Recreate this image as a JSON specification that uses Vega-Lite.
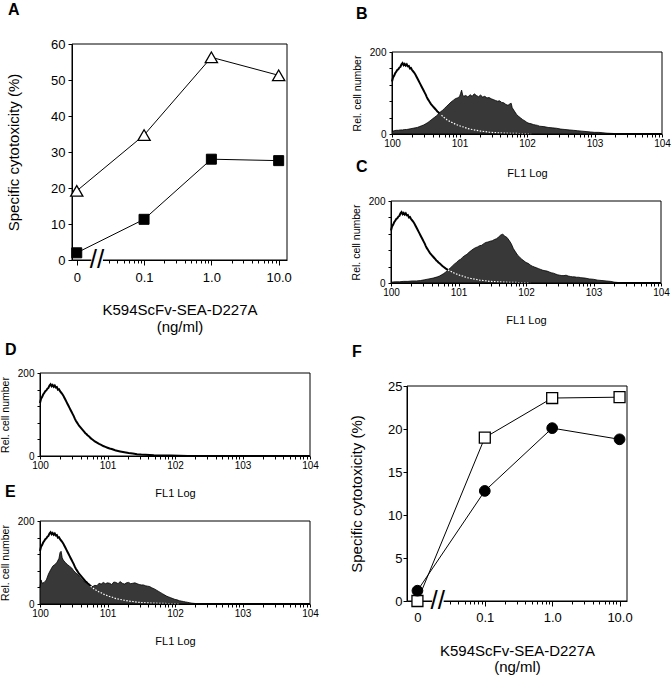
{
  "$schema": "https://vega.github.io/schema/vega-lite/v6.json",
  "width": 672,
  "height": 681,
  "autosize": {"type": "none"},
  "padding": 0,
  "background": "white",
  "config": {
    "font": "Liberation Sans",
    "view": {"stroke": null},
    "axis": {"grid": false, "domainColor": "black", "tickColor": "black", "labelColor": "black", "titleColor": "black", "titleFontWeight": "normal", "labelFont": "Liberation Sans", "titleFont": "Liberation Sans", "domainWidth": 1, "tickWidth": 1, "labelFlush": false, "labelOverlap": false, "labelBound": false}
  },
  "datasets": {
    "panelA": [
      {"dose": 0.01, "cytotoxicity": 19.2, "series": "triangle"},
      {"dose": 0.1, "cytotoxicity": 34.7, "series": "triangle"},
      {"dose": 1, "cytotoxicity": 56.3, "series": "triangle"},
      {"dose": 10, "cytotoxicity": 51.3, "series": "triangle"},
      {"dose": 0.01, "cytotoxicity": 2, "series": "square"},
      {"dose": 0.1, "cytotoxicity": 11.3, "series": "square"},
      {"dose": 1, "cytotoxicity": 28, "series": "square"},
      {"dose": 10, "cytotoxicity": 27.6, "series": "square"}
    ],
    "panelF": [
      {"dose": 0.01, "cytotoxicity": 0, "series": "square"},
      {"dose": 0.1, "cytotoxicity": 19, "series": "square"},
      {"dose": 1, "cytotoxicity": 23.6, "series": "square"},
      {"dose": 10, "cytotoxicity": 23.7, "series": "square"},
      {"dose": 0.01, "cytotoxicity": 1.2, "series": "circle"},
      {"dose": 0.1, "cytotoxicity": 12.8, "series": "circle"},
      {"dose": 1, "cytotoxicity": 20.1, "series": "circle"},
      {"dose": 10, "cytotoxicity": 18.8, "series": "circle"}
    ],
    "control": [
      {"channel": 0, "count": 128}, {"channel": 4, "count": 138}, {"channel": 8, "count": 142}, {"channel": 12, "count": 148}, {"channel": 16, "count": 152}, {"channel": 20, "count": 156}, {"channel": 24, "count": 158}, {"channel": 28, "count": 162}, {"channel": 32, "count": 164}, {"channel": 36, "count": 170}, {"channel": 40, "count": 173}, {"channel": 44, "count": 168}, {"channel": 48, "count": 171}, {"channel": 52, "count": 167}, {"channel": 56, "count": 170}, {"channel": 60, "count": 165}, {"channel": 64, "count": 166}, {"channel": 68, "count": 160}, {"channel": 72, "count": 161}, {"channel": 76, "count": 156}, {"channel": 80, "count": 153}, {"channel": 84, "count": 150}, {"channel": 88, "count": 146}, {"channel": 92, "count": 141}, {"channel": 96, "count": 136}, {"channel": 100, "count": 131}, {"channel": 104, "count": 126}, {"channel": 108, "count": 121}, {"channel": 112, "count": 116}, {"channel": 116, "count": 111}, {"channel": 120, "count": 106}, {"channel": 124, "count": 101}, {"channel": 128, "count": 96}, {"channel": 132, "count": 90}, {"channel": 136, "count": 85}, {"channel": 140, "count": 81}, {"channel": 144, "count": 77}, {"channel": 148, "count": 73}, {"channel": 152, "count": 70}, {"channel": 156, "count": 67}, {"channel": 160, "count": 64}, {"channel": 164, "count": 61}, {"channel": 168, "count": 58}, {"channel": 172, "count": 55}, {"channel": 176, "count": 53}, {"channel": 180, "count": 50}, {"channel": 184, "count": 48}, {"channel": 188, "count": 46}, {"channel": 192, "count": 43}, {"channel": 196, "count": 41}, {"channel": 200, "count": 39}, {"channel": 208, "count": 35}, {"channel": 216, "count": 32}, {"channel": 224, "count": 29}, {"channel": 232, "count": 27}, {"channel": 240, "count": 24}, {"channel": 248, "count": 22}, {"channel": 256, "count": 20}, {"channel": 264, "count": 18}, {"channel": 272, "count": 17}, {"channel": 280, "count": 15}, {"channel": 288, "count": 13}, {"channel": 296, "count": 12}, {"channel": 304, "count": 11}, {"channel": 320, "count": 9}, {"channel": 336, "count": 7}, {"channel": 352, "count": 6}, {"channel": 368, "count": 4.5}, {"channel": 384, "count": 3.5}, {"channel": 400, "count": 3}, {"channel": 432, "count": 2}, {"channel": 464, "count": 1.5}, {"channel": 496, "count": 1}, {"channel": 528, "count": 0.5}, {"channel": 560, "count": 0}, {"channel": 1023, "count": 0}
    ],
    "stainedB": [
      {"channel": 0, "count": 6}, {"channel": 8, "count": 8}, {"channel": 16, "count": 9}, {"channel": 24, "count": 9}, {"channel": 32, "count": 10}, {"channel": 40, "count": 10}, {"channel": 48, "count": 11}, {"channel": 56, "count": 11}, {"channel": 64, "count": 12}, {"channel": 72, "count": 13}, {"channel": 80, "count": 14}, {"channel": 88, "count": 15}, {"channel": 96, "count": 16}, {"channel": 104, "count": 18}, {"channel": 112, "count": 20}, {"channel": 120, "count": 22}, {"channel": 128, "count": 25}, {"channel": 136, "count": 28}, {"channel": 144, "count": 32}, {"channel": 152, "count": 36}, {"channel": 160, "count": 40}, {"channel": 168, "count": 44}, {"channel": 176, "count": 49}, {"channel": 184, "count": 54}, {"channel": 192, "count": 58}, {"channel": 200, "count": 63}, {"channel": 208, "count": 68}, {"channel": 216, "count": 73}, {"channel": 224, "count": 78}, {"channel": 232, "count": 82}, {"channel": 240, "count": 86}, {"channel": 248, "count": 88}, {"channel": 256, "count": 91}, {"channel": 260, "count": 99}, {"channel": 264, "count": 107}, {"channel": 268, "count": 95}, {"channel": 272, "count": 92}, {"channel": 280, "count": 94}, {"channel": 288, "count": 90}, {"channel": 296, "count": 96}, {"channel": 304, "count": 92}, {"channel": 312, "count": 98}, {"channel": 320, "count": 94}, {"channel": 328, "count": 91}, {"channel": 336, "count": 95}, {"channel": 344, "count": 90}, {"channel": 352, "count": 92}, {"channel": 360, "count": 88}, {"channel": 368, "count": 89}, {"channel": 376, "count": 86}, {"channel": 384, "count": 84}, {"channel": 392, "count": 82}, {"channel": 400, "count": 80}, {"channel": 408, "count": 81}, {"channel": 416, "count": 77}, {"channel": 424, "count": 76}, {"channel": 432, "count": 72}, {"channel": 440, "count": 70}, {"channel": 448, "count": 74}, {"channel": 452, "count": 75}, {"channel": 456, "count": 64}, {"channel": 464, "count": 56}, {"channel": 472, "count": 48}, {"channel": 480, "count": 43}, {"channel": 488, "count": 39}, {"channel": 496, "count": 35}, {"channel": 504, "count": 32}, {"channel": 512, "count": 28}, {"channel": 520, "count": 26}, {"channel": 528, "count": 25}, {"channel": 536, "count": 23}, {"channel": 544, "count": 22}, {"channel": 552, "count": 21}, {"channel": 560, "count": 19}, {"channel": 576, "count": 18}, {"channel": 592, "count": 16}, {"channel": 608, "count": 15}, {"channel": 624, "count": 14}, {"channel": 640, "count": 12}, {"channel": 656, "count": 11}, {"channel": 672, "count": 10}, {"channel": 688, "count": 9}, {"channel": 704, "count": 8}, {"channel": 720, "count": 7}, {"channel": 736, "count": 6}, {"channel": 752, "count": 5}, {"channel": 768, "count": 4}, {"channel": 784, "count": 4}, {"channel": 800, "count": 3}, {"channel": 816, "count": 2}, {"channel": 832, "count": 1.5}, {"channel": 848, "count": 1}, {"channel": 870, "count": 0}, {"channel": 1023, "count": 0}
    ],
    "stainedC": [
      {"channel": 0, "count": 2}, {"channel": 16, "count": 3}, {"channel": 32, "count": 3}, {"channel": 48, "count": 4}, {"channel": 64, "count": 4}, {"channel": 80, "count": 5}, {"channel": 96, "count": 5}, {"channel": 112, "count": 6}, {"channel": 128, "count": 8}, {"channel": 144, "count": 10}, {"channel": 160, "count": 12}, {"channel": 176, "count": 15}, {"channel": 184, "count": 17}, {"channel": 192, "count": 20}, {"channel": 200, "count": 23}, {"channel": 208, "count": 27}, {"channel": 216, "count": 32}, {"channel": 224, "count": 36}, {"channel": 232, "count": 41}, {"channel": 240, "count": 46}, {"channel": 248, "count": 50}, {"channel": 256, "count": 55}, {"channel": 264, "count": 58}, {"channel": 272, "count": 63}, {"channel": 280, "count": 67}, {"channel": 288, "count": 70}, {"channel": 296, "count": 75}, {"channel": 304, "count": 79}, {"channel": 312, "count": 83}, {"channel": 320, "count": 86}, {"channel": 328, "count": 88}, {"channel": 336, "count": 91}, {"channel": 344, "count": 92}, {"channel": 352, "count": 96}, {"channel": 360, "count": 99}, {"channel": 368, "count": 100}, {"channel": 376, "count": 102}, {"channel": 384, "count": 103}, {"channel": 392, "count": 106}, {"channel": 400, "count": 108}, {"channel": 408, "count": 112}, {"channel": 416, "count": 117}, {"channel": 424, "count": 119}, {"channel": 432, "count": 114}, {"channel": 440, "count": 111}, {"channel": 448, "count": 104}, {"channel": 456, "count": 96}, {"channel": 464, "count": 84}, {"channel": 472, "count": 76}, {"channel": 480, "count": 68}, {"channel": 488, "count": 63}, {"channel": 496, "count": 58}, {"channel": 504, "count": 54}, {"channel": 512, "count": 50}, {"channel": 520, "count": 48}, {"channel": 528, "count": 44}, {"channel": 536, "count": 41}, {"channel": 544, "count": 39}, {"channel": 552, "count": 37}, {"channel": 560, "count": 35}, {"channel": 568, "count": 33}, {"channel": 576, "count": 31}, {"channel": 584, "count": 30}, {"channel": 592, "count": 29}, {"channel": 600, "count": 27}, {"channel": 608, "count": 25}, {"channel": 616, "count": 24}, {"channel": 624, "count": 22}, {"channel": 632, "count": 20}, {"channel": 640, "count": 19}, {"channel": 648, "count": 18}, {"channel": 656, "count": 18}, {"channel": 664, "count": 19}, {"channel": 672, "count": 17}, {"channel": 680, "count": 16}, {"channel": 688, "count": 15}, {"channel": 696, "count": 15}, {"channel": 704, "count": 14}, {"channel": 712, "count": 14}, {"channel": 720, "count": 13}, {"channel": 736, "count": 12}, {"channel": 752, "count": 10}, {"channel": 768, "count": 9}, {"channel": 784, "count": 7}, {"channel": 800, "count": 6}, {"channel": 816, "count": 5}, {"channel": 832, "count": 4}, {"channel": 848, "count": 2}, {"channel": 864, "count": 1}, {"channel": 880, "count": 0}, {"channel": 1023, "count": 0}
    ],
    "stainedE": [
      {"channel": 0, "count": 40}, {"channel": 4, "count": 58}, {"channel": 8, "count": 50}, {"channel": 16, "count": 52}, {"channel": 24, "count": 58}, {"channel": 32, "count": 72}, {"channel": 40, "count": 82}, {"channel": 48, "count": 91}, {"channel": 56, "count": 95}, {"channel": 64, "count": 100}, {"channel": 72, "count": 110}, {"channel": 76, "count": 124}, {"channel": 80, "count": 127}, {"channel": 84, "count": 112}, {"channel": 88, "count": 106}, {"channel": 96, "count": 100}, {"channel": 104, "count": 95}, {"channel": 112, "count": 91}, {"channel": 120, "count": 87}, {"channel": 128, "count": 80}, {"channel": 136, "count": 75}, {"channel": 144, "count": 71}, {"channel": 152, "count": 64}, {"channel": 160, "count": 59}, {"channel": 168, "count": 54}, {"channel": 176, "count": 50}, {"channel": 184, "count": 46}, {"channel": 192, "count": 43}, {"channel": 200, "count": 42}, {"channel": 208, "count": 45}, {"channel": 216, "count": 44}, {"channel": 224, "count": 50}, {"channel": 232, "count": 48}, {"channel": 240, "count": 52}, {"channel": 248, "count": 49}, {"channel": 256, "count": 51}, {"channel": 264, "count": 50}, {"channel": 272, "count": 47}, {"channel": 280, "count": 53}, {"channel": 288, "count": 52}, {"channel": 296, "count": 49}, {"channel": 304, "count": 54}, {"channel": 312, "count": 50}, {"channel": 320, "count": 48}, {"channel": 328, "count": 51}, {"channel": 336, "count": 52}, {"channel": 344, "count": 49}, {"channel": 352, "count": 50}, {"channel": 360, "count": 51}, {"channel": 368, "count": 49}, {"channel": 376, "count": 47}, {"channel": 384, "count": 46}, {"channel": 392, "count": 46}, {"channel": 400, "count": 44}, {"channel": 408, "count": 43}, {"channel": 416, "count": 42}, {"channel": 424, "count": 39}, {"channel": 432, "count": 37}, {"channel": 440, "count": 34}, {"channel": 448, "count": 31}, {"channel": 456, "count": 28}, {"channel": 464, "count": 25}, {"channel": 472, "count": 22}, {"channel": 480, "count": 19}, {"channel": 488, "count": 17}, {"channel": 496, "count": 15}, {"channel": 504, "count": 13}, {"channel": 512, "count": 11}, {"channel": 520, "count": 10}, {"channel": 528, "count": 8}, {"channel": 536, "count": 7}, {"channel": 544, "count": 6}, {"channel": 552, "count": 5}, {"channel": 560, "count": 4}, {"channel": 568, "count": 3}, {"channel": 576, "count": 2}, {"channel": 592, "count": 1}, {"channel": 616, "count": 0}, {"channel": 1023, "count": 0}
    ]
  },
  "resolve": {"scale": {"x": "independent", "y": "independent"}, "axis": {"x": "independent", "y": "independent"}},
  "layer": [
    {
      "data": {"name": "panelA"},
      "layer": [
        {"mark": {"type": "line", "color": "black", "strokeWidth": 1},
         "encoding": {
           "x": {"field": "dose", "type": "quantitative", "scale": {"type": "log", "domain": [0.0085, 13.3], "range": [72, 287], "nice": false},
             "axis": {"orient": "bottom", "offset": -421, "title": ["K594ScFv-SEA-D227A", "(ng/ml)"], "values": [0.01, 0.03, 0.04, 0.05, 0.06, 0.07, 0.08, 0.09, 0.1, 0.2, 0.3, 0.4, 0.5, 0.6, 0.7, 0.8, 0.9, 1, 2, 3, 4, 5, 6, 7, 8, 9, 10], "tickCount": 200,
               "labelExpr": "datum.value == 0.01 ? '0' : datum.value == 0.1 ? '0.1' : datum.value == 1 ? '1.0' : datum.value == 10 ? '10.0' : ''",
               "tickSize": {"condition": {"test": "datum.value == 0.01 || datum.value == 0.1 || datum.value == 1 || datum.value == 10", "value": 5}, "value": 3},
               "labelOverlap": false, "labelPadding": 6, "labelFontSize": 13, "titleFontSize": 15, "titleY": 54.5, "titleBaseline": "alphabetic", "titleLineHeight": 17}},
           "y": {"field": "cytotoxicity", "type": "quantitative", "scale": {"domain": [0, 60], "range": [260, 44], "nice": false},
             "axis": {"orient": "left", "offset": -72, "title": "Specific cytotoxicity (%)", "values": [0, 10, 20, 30, 40, 50, 60], "format": "d", "labelOverlap": false, "tickSize": 4, "labelPadding": 3, "labelFontSize": 13, "titleFontSize": 15, "titleX": -53.5, "titleBaseline": "alphabetic"}},
           "detail": {"field": "series"}
         }},
        {"data": {"values": [{}]}, "mark": {"type": "rect", "filled": false, "stroke": "black", "strokeWidth": 1},
         "encoding": {"x": {"datum": 0.0085}, "x2": {"datum": 13.3}, "y": {"datum": 0}, "y2": {"datum": 60}}},
        {"transform": [{"filter": "datum.series == 'triangle'"}],
         "mark": {"type": "point", "shape": "triangle-up", "filled": true, "fill": "white", "stroke": "black", "strokeWidth": 1.3, "size": 150, "opacity": 1},
         "encoding": {"x": {"field": "dose", "type": "quantitative"}, "y": {"field": "cytotoxicity", "type": "quantitative"}}},
        {"transform": [{"filter": "datum.series == 'square'"}],
         "mark": {"type": "point", "shape": "square", "filled": true, "fill": "black", "stroke": "black", "strokeWidth": 1, "size": 100, "opacity": 1},
         "encoding": {"x": {"field": "dose", "type": "quantitative"}, "y": {"field": "cytotoxicity", "type": "quantitative"}}},
        {"data": {"values": [{}]}, "mark": {"type": "rect", "fill": "white"},
         "encoding": {"x": {"datum": 0.0165}, "x2": {"datum": 0.0245}, "y": {"datum": -1.4}, "y2": {"datum": 1.4}}},
        {"data": {"values": [{}]}, "mark": {"type": "text", "text": "//", "fontSize": 26, "font": "Liberation Sans", "color": "black", "align": "center", "baseline": "middle"},
         "encoding": {"x": {"datum": 0.02}, "y": {"datum": 0}}},
        {"data": {"values": [{}]}, "mark": {"type": "text", "text": "A", "fontSize": 16, "fontWeight": "bold", "font": "Liberation Sans", "color": "black", "align": "left", "baseline": "alphabetic"},
         "encoding": {"x": {"datum": 0.000951}, "y": {"datum": 68.06}}}
      ]
    },
    {
      "layer": [
        {"data": {"name": "control"}, "mark": {"type": "line", "color": "black", "strokeWidth": 2},
         "encoding": {
           "x": {"field": "channel", "type": "quantitative", "scale": {"domain": [0, 1024], "range": [392, 662], "nice": false, "zero": false},
             "axis": {"orient": "bottom", "offset": -547, "title": "FL1 Log", "values": [0, 77.06, 122.15, 154.13, 178.94, 199.21, 216.35, 231.19, 244.29, 256, 333.06, 378.15, 410.13, 434.94, 455.21, 472.35, 487.19, 500.29, 512, 589.06, 634.15, 666.13, 690.94, 711.21, 728.35, 743.19, 756.29, 768, 845.06, 890.15, 922.13, 946.94, 967.21, 984.35, 999.19, 1012.29, 1024], "tickCount": 200,
               "labelExpr": "datum.value % 256 == 0 ? '10' + (datum.value / 256) : ''", "labelOverlap": false, "tickSize": 3, "labelPadding": 1, "labelFontSize": 10, "titleFontSize": 11, "titleY": 42.5, "titleBaseline": "alphabetic"}},
           "y": {"field": "count", "type": "quantitative", "scale": {"domain": [0, 200], "range": [134, 52], "nice": false},
             "axis": {"orient": "left", "offset": -392, "title": "Rel. cell number", "values": [0, 40, 80, 120, 160, 200], "labelExpr": "datum.value == 0 || datum.value == 200 ? '' + datum.value : ''", "labelOverlap": false, "tickSize": 3, "labelPadding": 3, "labelFontSize": 10, "titleFontSize": 10.5, "titleX": -32, "titleBaseline": "alphabetic"}}
         }},
        {"data": {"name": "stainedB"}, "mark": {"type": "area", "color": "#383838", "opacity": 1, "line": {"color": "black", "strokeWidth": 0.8}},
         "encoding": {"x": {"field": "channel", "type": "quantitative"}, "y": {"field": "count", "type": "quantitative", "stack": null}}},
        {"data": {"name": "control"}, "transform": [{"filter": "datum.channel >= 186 && datum.channel <= 528"}],
         "mark": {"type": "line", "color": "white", "strokeWidth": 1.2, "strokeDash": [1.5, 1.5]},
         "encoding": {"x": {"field": "channel", "type": "quantitative"}, "y": {"field": "count", "type": "quantitative"}}},
        {"data": {"values": [{}]}, "mark": {"type": "rect", "filled": false, "stroke": "black", "strokeWidth": 1},
         "encoding": {"x": {"datum": 0}, "x2": {"datum": 1024}, "y": {"datum": 0}, "y2": {"datum": 200}}},
        {"data": {"values": [{}]}, "mark": {"type": "text", "text": "B", "fontSize": 16, "fontWeight": "bold", "font": "Liberation Sans", "color": "black", "align": "left", "baseline": "alphabetic"},
         "encoding": {"x": {"datum": -136.5}, "y": {"datum": 281.7}}}
      ]
    },
    {
      "layer": [
        {"data": {"name": "control"}, "mark": {"type": "line", "color": "black", "strokeWidth": 2},
         "encoding": {
           "x": {"field": "channel", "type": "quantitative", "scale": {"domain": [0, 1024], "range": [391, 661], "nice": false, "zero": false},
             "axis": {"orient": "bottom", "offset": -398, "title": "FL1 Log", "values": [0, 77.06, 122.15, 154.13, 178.94, 199.21, 216.35, 231.19, 244.29, 256, 333.06, 378.15, 410.13, 434.94, 455.21, 472.35, 487.19, 500.29, 512, 589.06, 634.15, 666.13, 690.94, 711.21, 728.35, 743.19, 756.29, 768, 845.06, 890.15, 922.13, 946.94, 967.21, 984.35, 999.19, 1012.29, 1024], "tickCount": 200,
               "labelExpr": "datum.value % 256 == 0 ? '10' + (datum.value / 256) : ''", "labelOverlap": false, "tickSize": 3, "labelPadding": 1, "labelFontSize": 10, "titleFontSize": 11, "titleY": 40, "titleBaseline": "alphabetic"}},
           "y": {"field": "count", "type": "quantitative", "scale": {"domain": [0, 200], "range": [283, 201], "nice": false},
             "axis": {"orient": "left", "offset": -391, "title": "Rel. cell number", "values": [0, 40, 80, 120, 160, 200], "labelExpr": "datum.value == 0 || datum.value == 200 ? '' + datum.value : ''", "labelOverlap": false, "tickSize": 3, "labelPadding": 3, "labelFontSize": 10, "titleFontSize": 10.5, "titleX": -32, "titleBaseline": "alphabetic"}}
         }},
        {"data": {"name": "stainedC"}, "mark": {"type": "area", "color": "#383838", "opacity": 1, "line": {"color": "black", "strokeWidth": 0.8}},
         "encoding": {"x": {"field": "channel", "type": "quantitative"}, "y": {"field": "count", "type": "quantitative", "stack": null}}},
        {"data": {"name": "control"}, "transform": [{"filter": "datum.channel >= 216 && datum.channel <= 528"}],
         "mark": {"type": "line", "color": "white", "strokeWidth": 1.2, "strokeDash": [1.5, 1.5]},
         "encoding": {"x": {"field": "channel", "type": "quantitative"}, "y": {"field": "count", "type": "quantitative"}}},
        {"data": {"values": [{}]}, "mark": {"type": "rect", "filled": false, "stroke": "black", "strokeWidth": 1},
         "encoding": {"x": {"datum": 0}, "x2": {"datum": 1024}, "y": {"datum": 0}, "y2": {"datum": 200}}},
        {"data": {"values": [{}]}, "mark": {"type": "text", "text": "C", "fontSize": 16, "fontWeight": "bold", "font": "Liberation Sans", "color": "black", "align": "left", "baseline": "alphabetic"},
         "encoding": {"x": {"datum": -132.7}, "y": {"datum": 270.7}}}
      ]
    },
    {
      "layer": [
        {"data": {"name": "control"}, "mark": {"type": "line", "color": "black", "strokeWidth": 2},
         "encoding": {
           "x": {"field": "channel", "type": "quantitative", "scale": {"domain": [0, 1024], "range": [40, 310], "nice": false, "zero": false},
             "axis": {"orient": "bottom", "offset": -225, "title": "FL1 Log", "values": [0, 77.06, 122.15, 154.13, 178.94, 199.21, 216.35, 231.19, 244.29, 256, 333.06, 378.15, 410.13, 434.94, 455.21, 472.35, 487.19, 500.29, 512, 589.06, 634.15, 666.13, 690.94, 711.21, 728.35, 743.19, 756.29, 768, 845.06, 890.15, 922.13, 946.94, 967.21, 984.35, 999.19, 1012.29, 1024], "tickCount": 200,
               "labelExpr": "datum.value % 256 == 0 ? '10' + (datum.value / 256) : ''", "labelOverlap": false, "tickSize": 3, "labelPadding": 1, "labelFontSize": 10, "titleFontSize": 11, "titleY": 40, "titleBaseline": "alphabetic"}},
           "y": {"field": "count", "type": "quantitative", "scale": {"domain": [0, 200], "range": [456, 373], "nice": false},
             "axis": {"orient": "left", "offset": -40, "title": "Rel. cell number", "values": [0, 40, 80, 120, 160, 200], "labelExpr": "datum.value == 0 || datum.value == 200 ? '' + datum.value : ''", "labelOverlap": false, "tickSize": 3, "labelPadding": 3, "labelFontSize": 10, "titleFontSize": 10.5, "titleX": -32, "titleBaseline": "alphabetic"}}
         }},
        {"data": {"values": [{}]}, "mark": {"type": "rect", "filled": false, "stroke": "black", "strokeWidth": 1},
         "encoding": {"x": {"datum": 0}, "x2": {"datum": 1024}, "y": {"datum": 0}, "y2": {"datum": 200}}},
        {"data": {"values": [{}]}, "mark": {"type": "text", "text": "D", "fontSize": 16, "fontWeight": "bold", "font": "Liberation Sans", "color": "black", "align": "left", "baseline": "alphabetic"},
         "encoding": {"x": {"datum": -132.7}, "y": {"datum": 243.4}}}
      ]
    },
    {
      "layer": [
        {"data": {"name": "control"}, "mark": {"type": "line", "color": "black", "strokeWidth": 2},
         "encoding": {
           "x": {"field": "channel", "type": "quantitative", "scale": {"domain": [0, 1024], "range": [40, 310], "nice": false, "zero": false},
             "axis": {"orient": "bottom", "offset": -77, "title": "FL1 Log", "values": [0, 77.06, 122.15, 154.13, 178.94, 199.21, 216.35, 231.19, 244.29, 256, 333.06, 378.15, 410.13, 434.94, 455.21, 472.35, 487.19, 500.29, 512, 589.06, 634.15, 666.13, 690.94, 711.21, 728.35, 743.19, 756.29, 768, 845.06, 890.15, 922.13, 946.94, 967.21, 984.35, 999.19, 1012.29, 1024], "tickCount": 200,
               "labelExpr": "datum.value % 256 == 0 ? '10' + (datum.value / 256) : ''", "labelOverlap": false, "tickSize": 3, "labelPadding": 1, "labelFontSize": 10, "titleFontSize": 11, "titleY": 40, "titleBaseline": "alphabetic"}},
           "y": {"field": "count", "type": "quantitative", "scale": {"domain": [0, 200], "range": [604, 521], "nice": false},
             "axis": {"orient": "left", "offset": -40, "title": "Rel. cell number", "values": [0, 40, 80, 120, 160, 200], "labelExpr": "datum.value == 0 || datum.value == 200 ? '' + datum.value : ''", "labelOverlap": false, "tickSize": 3, "labelPadding": 3, "labelFontSize": 10, "titleFontSize": 10.5, "titleX": -32, "titleBaseline": "alphabetic"}}
         }},
        {"data": {"name": "stainedE"}, "mark": {"type": "area", "color": "#383838", "opacity": 1, "line": {"color": "black", "strokeWidth": 0.8}},
         "encoding": {"x": {"field": "channel", "type": "quantitative"}, "y": {"field": "count", "type": "quantitative", "stack": null}}},
        {"data": {"name": "control"}, "transform": [{"filter": "datum.channel >= 192 && datum.channel <= 528"}],
         "mark": {"type": "line", "color": "white", "strokeWidth": 1.2, "strokeDash": [1.5, 1.5]},
         "encoding": {"x": {"field": "channel", "type": "quantitative"}, "y": {"field": "count", "type": "quantitative"}}},
        {"data": {"values": [{}]}, "mark": {"type": "rect", "filled": false, "stroke": "black", "strokeWidth": 1},
         "encoding": {"x": {"datum": 0}, "x2": {"datum": 1024}, "y": {"datum": 0}, "y2": {"datum": 200}}},
        {"data": {"values": [{}]}, "mark": {"type": "text", "text": "E", "fontSize": 16, "fontWeight": "bold", "font": "Liberation Sans", "color": "black", "align": "left", "baseline": "alphabetic"},
         "encoding": {"x": {"datum": -132.7}, "y": {"datum": 257.8}}}
      ]
    },
    {
      "data": {"name": "panelF"},
      "layer": [
        {"mark": {"type": "line", "color": "black", "strokeWidth": 1},
         "encoding": {
           "x": {"field": "dose", "type": "quantitative", "scale": {"type": "log", "domain": [0.007, 12.9], "range": [407, 627], "nice": false},
             "axis": {"orient": "bottom", "offset": -80, "title": ["K594ScFv-SEA-D227A", "(ng/ml)"], "values": [0.01, 0.03, 0.04, 0.05, 0.06, 0.07, 0.08, 0.09, 0.1, 0.2, 0.3, 0.4, 0.5, 0.6, 0.7, 0.8, 0.9, 1, 2, 3, 4, 5, 6, 7, 8, 9, 10], "tickCount": 200,
               "labelExpr": "datum.value == 0.01 ? '0' : datum.value == 0.1 ? '0.1' : datum.value == 1 ? '1.0' : datum.value == 10 ? '10.0' : ''",
               "tickSize": {"condition": {"test": "datum.value == 0.01 || datum.value == 0.1 || datum.value == 1 || datum.value == 10", "value": 5}, "value": 3},
               "labelOverlap": false, "labelPadding": 5, "labelFontSize": 13, "titleFontSize": 15, "titleY": 54.5, "titleBaseline": "alphabetic", "titleLineHeight": 16}},
           "y": {"field": "cytotoxicity", "type": "quantitative", "scale": {"domain": [0, 25], "range": [601, 386], "nice": false},
             "axis": {"orient": "left", "offset": -407, "title": "Specific cytotoxicity (%)", "values": [0, 5, 10, 15, 20, 25], "format": "d", "labelOverlap": false, "tickSize": 4, "labelPadding": 1, "labelFontSize": 13, "titleFontSize": 15, "titleX": -46, "titleBaseline": "alphabetic"}},
           "detail": {"field": "series"}
         }},
        {"data": {"values": [{}]}, "mark": {"type": "rect", "filled": false, "stroke": "black", "strokeWidth": 1},
         "encoding": {"x": {"datum": 0.007}, "x2": {"datum": 12.9}, "y": {"datum": 0}, "y2": {"datum": 25}}},
        {"transform": [{"filter": "datum.series == 'square'"}],
         "mark": {"type": "point", "shape": "square", "filled": true, "fill": "white", "stroke": "black", "strokeWidth": 1.3, "size": 120, "opacity": 1},
         "encoding": {"x": {"field": "dose", "type": "quantitative"}, "y": {"field": "cytotoxicity", "type": "quantitative"}}},
        {"transform": [{"filter": "datum.series == 'circle'"}],
         "mark": {"type": "point", "shape": "circle", "filled": true, "fill": "black", "stroke": "black", "strokeWidth": 1, "size": 115, "opacity": 1},
         "encoding": {"x": {"field": "dose", "type": "quantitative"}, "y": {"field": "cytotoxicity", "type": "quantitative"}}},
        {"data": {"values": [{}]}, "mark": {"type": "rect", "fill": "white"},
         "encoding": {"x": {"datum": 0.0165}, "x2": {"datum": 0.0245}, "y": {"datum": -0.6}, "y2": {"datum": 0.6}}},
        {"data": {"values": [{}]}, "mark": {"type": "text", "text": "//", "fontSize": 26, "font": "Liberation Sans", "color": "black", "align": "center", "baseline": "middle"},
         "encoding": {"x": {"datum": 0.02}, "y": {"datum": 0}}},
        {"data": {"values": [{}]}, "mark": {"type": "text", "text": "F", "fontSize": 16, "fontWeight": "bold", "font": "Liberation Sans", "color": "black", "align": "left", "baseline": "alphabetic"},
         "encoding": {"x": {"datum": 0.001068}, "y": {"datum": 28.37}}}
      ]
    }
  ]
}
